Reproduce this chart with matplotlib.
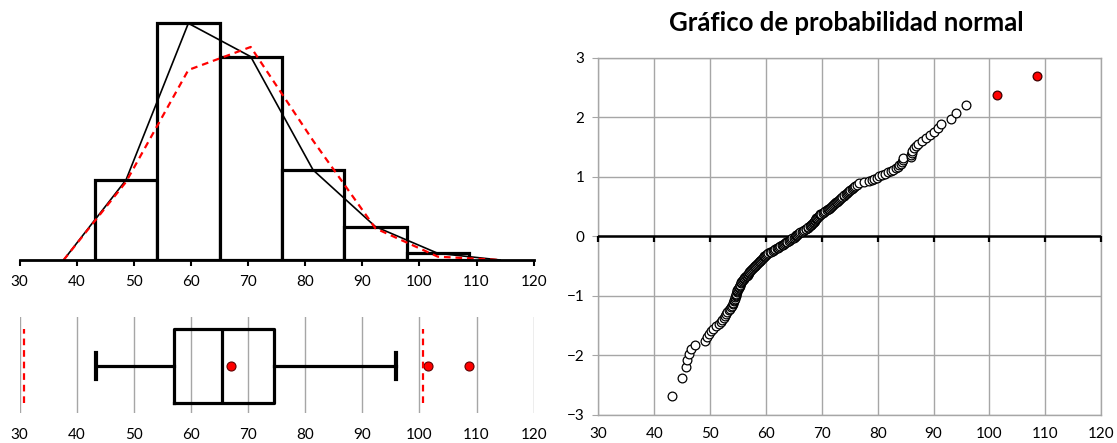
import numpy as np
import matplotlib
matplotlib.use("Agg")
import matplotlib.pyplot as plt
from matplotlib.markers import TICKDOWN
from statistics import NormalDist

plt.rcParams['font.family'] = ['Lato', 'DejaVu Sans']

# ---------------- data ----------------
bin_edges = [43.15, 54.07, 64.99, 75.91, 86.83, 97.75, 108.67]
bin_counts = [24, 71, 61, 27, 10, 2]
poly_x = [37.69, 48.61, 59.53, 70.45, 81.37, 92.29, 103.21, 114.13]
poly_observed = [0, 24, 71, 61, 27, 10, 2, 0]
poly_normal = [0, 23.4, 57.0, 63.9, 35.8, 9.5, 1.0, 0]

box_q1 = 56.95
box_median = 65.5
box_q3 = 74.6
box_whisker_low = 43.3
box_whisker_high = 95.9
box_mean = 66.95
box_outliers = [101.45, 108.6]
box_fences = [30.7, 100.7]

sample_sorted = [
    43.2, 45.0, 45.7, 45.9, 46.3, 46.6, 47.3, 49.1, 49.5, 49.8,
    50.1, 50.5, 51.0, 51.6, 51.9, 52.2, 52.5, 52.7, 52.85, 53.0,
    53.3, 53.5, 53.7, 53.9, 54.05, 54.15, 54.25, 54.35, 54.4, 54.5,
    54.55, 54.6, 54.7, 54.75, 54.85, 54.9, 55.0, 55.1, 55.2, 55.3,
    55.4, 55.5, 55.6, 55.75, 55.9, 56.0, 56.15, 56.3, 56.45, 56.55,
    56.7, 56.8, 56.95, 57.0, 57.2, 57.35, 57.5, 57.65, 57.8, 57.95,
    58.1, 58.25, 58.4, 58.55, 58.7, 58.9, 59.0, 59.15, 59.3, 59.45,
    59.6, 59.7, 59.85, 60.0, 60.2, 60.45, 60.7, 60.95, 61.2, 61.4,
    61.65, 61.9, 62.1, 62.35, 62.6, 62.8, 63.05, 63.25, 63.45, 63.65,
    63.85, 64.05, 64.25, 64.45, 64.7, 65.0, 65.15, 65.3, 65.45, 65.6,
    65.65, 65.9, 66.15, 66.4, 66.6, 66.85, 67.1, 67.25, 67.45, 67.6,
    67.8, 68.0, 68.15, 68.3, 68.5, 68.6, 68.65, 68.75, 68.85, 68.9,
    69.0, 69.15, 69.3, 69.45, 69.6, 69.75, 69.9, 70.2, 70.45, 70.65,
    70.9, 71.05, 71.25, 71.4, 71.6, 71.8, 72.0, 72.15, 72.35, 72.5,
    72.7, 72.9, 73.1, 73.3, 73.5, 73.7, 73.9, 74.05, 74.25, 74.45,
    74.6, 74.85, 75.1, 75.35, 75.55, 75.75, 76.0, 76.3, 76.6, 77.6,
    78.4, 78.9, 79.3, 79.8, 80.2, 80.8, 81.3, 81.9, 82.4, 82.8,
    83.2, 83.6, 83.9, 84.1, 84.3, 84.45, 84.6, 85.9, 86.0, 86.1,
    86.2, 86.5, 86.8, 87.3, 87.9, 88.6, 89.3, 90.0, 90.8, 91.4,
    93.2, 94.1, 95.9, 101.4, 108.5,
]

x_ticks = [30, 40, 50, 60, 70, 80, 90, 100, 110, 120]
y_ticks = [-3, -2, -1, 0, 1, 2, 3]
title_text = "Gráfico de probabilidad normal"

# normal scores (Benard plotting positions) for the sorted sample
n = len(sample_sorted)
nd = NormalDist()
normal_scores = [nd.inv_cdf((i + 1 - 0.3) / (n + 0.4)) for i in range(n)]
is_outlier = [v > box_fences[1] for v in sample_sorted]

# ---------------- figure ----------------
W, H = 1117, 443
fig = plt.figure(figsize=(W / 100, H / 100), dpi=100)

def rect(x0, y0, x1, y1):
    return [x0 / W, 1 - y1 / H, (x1 - x0) / W, (y1 - y0) / H]

grid_col = '#A6A6A6'
tick_fs = 11

# ---- histogram ----
axh = fig.add_axes(rect(19.7, 13.3, 533.7, 260))
axh.bar(bin_edges[:-1], bin_counts, width=np.diff(bin_edges), align='edge',
        facecolor='white', edgecolor='black', linewidth=2.3, zorder=2)
axh.plot(poly_x, poly_observed, color='black', lw=1.2, zorder=3)
axh.plot(poly_x, poly_normal, color='red', lw=1.6, linestyle=(0, (3, 2.2)), zorder=4)
axh.set_xlim(30, 120)
axh.set_ylim(0, 74)
for s in ['left', 'right', 'top']:
    axh.spines[s].set_visible(False)
axh.spines['bottom'].set_linewidth(2.0)
axh.spines['bottom'].set_zorder(5)
axh.set_yticks([])
axh.set_xticks(x_ticks)
axh.tick_params(axis='x', direction='out', length=4, width=1.5, labelsize=tick_fs, pad=7)
axh.patch.set_alpha(0)

# ---- box plot ----
axb = fig.add_axes(rect(19.7, 317, 533.7, 413))
stats = [dict(med=box_median, q1=box_q1, q3=box_q3, whislo=box_whisker_low,
              whishi=box_whisker_high, fliers=box_outliers, mean=box_mean)]
axb.bxp(stats, positions=[0.49], widths=[0.771], capwidths=[0.27],
        orientation='horizontal', showmeans=True,
        boxprops=dict(color='black', linewidth=2.3),
        medianprops=dict(color='black', linewidth=2.3),
        whiskerprops=dict(color='black', linewidth=2.3),
        capprops=dict(color='black', linewidth=3.0),
        meanprops=dict(marker='o', markerfacecolor='red', markeredgecolor='#600000',
                       markersize=6.5, markeredgewidth=0.8),
        flierprops=dict(marker='o', markerfacecolor='red', markeredgecolor='#600000',
                        markersize=6.5, markeredgewidth=0.8))
axb.vlines(box_fences, 0.49 - 0.771 / 2, 0.49 + 0.771 / 2, colors='red',
           linestyles=(0, (3, 2.2)), linewidth=1.6, zorder=4)
axb.set_xlim(30, 120)
axb.set_ylim(0, 1)
for s in axb.spines.values():
    s.set_visible(False)
axb.set_yticks([])
axb.set_xticks(x_ticks)
axb.grid(axis='x', color=grid_col, linewidth=1.0, zorder=0)
axb.set_axisbelow(True)
axb.tick_params(axis='x', length=0, labelsize=tick_fs, pad=11)

# ---- normal probability plot ----
axq = fig.add_axes(rect(598.4, 57.7, 1101.1, 414.7))
normal_x = [v for v, o in zip(sample_sorted, is_outlier) if not o]
normal_y = [z for z, o in zip(normal_scores, is_outlier) if not o]
out_x = [v for v, o in zip(sample_sorted, is_outlier) if o]
out_y = [z for z, o in zip(normal_scores, is_outlier) if o]
axq.axhline(0, color='black', linewidth=1.8, zorder=3)
axq.plot(x_ticks, [0] * len(x_ticks), linestyle='none', marker=TICKDOWN,
         markersize=4, markeredgewidth=1.6, color='black', zorder=3, clip_on=False)
axq.plot(normal_x, normal_y, linestyle='none', marker='o', markersize=6.3,
         markerfacecolor='white', markeredgecolor='black', markeredgewidth=0.9, zorder=4)
axq.plot(out_x, out_y, linestyle='none', marker='o', markersize=6.3,
         markerfacecolor='red', markeredgecolor='#400000', markeredgewidth=0.9, zorder=4)
axq.set_xlim(30, 120)
axq.set_ylim(-3, 3)
axq.set_xticks(x_ticks)
axq.set_yticks(y_ticks)
axq.grid(True, color=grid_col, linewidth=1.0)
axq.set_axisbelow(True)
for s in axq.spines.values():
    s.set_color(grid_col)
    s.set_linewidth(1.0)
axq.tick_params(axis='x', length=0, labelsize=tick_fs, pad=9)
axq.tick_params(axis='y', direction='out', length=4, color=grid_col, labelsize=tick_fs, pad=6)
fig.text((598.4 + 1101.1) / 2 / W - 0.003, 1 - 23 / H, title_text,
         ha='center', va='center', fontsize=18.5, fontweight='bold')

fig.savefig('out.png', dpi=100)
